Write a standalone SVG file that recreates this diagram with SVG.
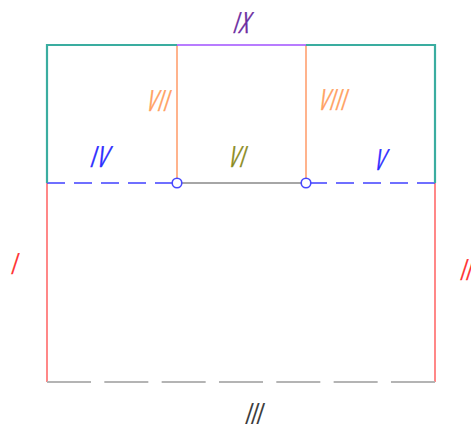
<svg xmlns="http://www.w3.org/2000/svg" width="471" height="424" viewBox="0 0 471 424">
<style>
.lbl{font-family:"Liberation Sans",Arial,sans-serif;font-size:30px;stroke-width:0.7;letter-spacing:3px}
.teal{stroke:#3aada0;stroke-width:2.2;fill:none}
.red{stroke:#ff6a6a;stroke-width:1.6;fill:none}
.org{stroke:#ffa070;stroke-width:1.6;fill:none}
.pur{stroke:#a050ff;stroke-width:1.6;fill:none}
.blu{stroke:#4040ff;stroke-width:1.6;fill:none;stroke-dasharray:18 9}
.gry{stroke:#888888;stroke-width:1.6;fill:none}
.gdash{stroke:#b4b4b4;stroke-width:2.2;fill:none;stroke-dasharray:44 13.33}
.pt{fill:#ffffff;stroke:#4848ff;stroke-width:1.6}
</style>
<rect width="471" height="424" fill="#ffffff"/>
<g id="connectors">
<g id="edge-I"><line class="red" x1="47" y1="183" x2="47" y2="382"/></g>
<g id="edge-II"><line class="red" x1="435" y1="183" x2="435" y2="382"/></g>
<g id="edge-III"><line class="gdash" x1="47" y1="382" x2="435" y2="382"/></g>
<g id="edge-IV"><line class="blu" x1="47" y1="183" x2="177" y2="183"/></g>
<g id="edge-V"><line class="blu" x1="435" y1="183" x2="306" y2="183"/></g>
<g id="edge-VI"><line class="gry" x1="177" y1="183" x2="306" y2="183"/></g>
<g id="edge-VII"><line class="org" x1="177" y1="45" x2="177" y2="183"/></g>
<g id="edge-VIII"><line class="org" x1="306" y1="45" x2="306" y2="183"/></g>
<g id="edge-IX"><line class="pur" x1="177" y1="45" x2="306" y2="45"/></g>
<g id="edge-top"><polyline class="teal" points="47,183 47,45 177,45"/><polyline class="teal" points="306,45 435,45 435,183"/></g>
</g>
<g id="node-left"><circle class="pt" cx="177" cy="183" r="4.8"/></g>
<g id="node-right"><circle class="pt" cx="306" cy="183" r="4.8"/></g>
<g id="labels">
<text class="lbl" fill="#6a2aa0" stroke="#6a2aa0" transform="translate(232,33) skewX(-18) scale(0.5,1)">IX</text>
<text class="lbl" fill="#ffa060" stroke="#ffa060" transform="translate(145,111) skewX(-18) scale(0.5,1)">VII</text>
<text class="lbl" fill="#ffa060" stroke="#ffa060" transform="translate(317,110) skewX(-18) scale(0.5,1)">VIII</text>
<text class="lbl" fill="#2a2aff" stroke="#2a2aff" transform="translate(89,167) skewX(-18) scale(0.55,1)">IV</text>
<text class="lbl" fill="#8a8a1a" stroke="#8a8a1a" transform="translate(227,167) skewX(-18) scale(0.5,1)">VI</text>
<text class="lbl" fill="#2a2aff" stroke="#2a2aff" transform="translate(373,170) skewX(-18) scale(0.5,1)">V</text>
<text class="lbl" fill="#ff2a2a" stroke="#ff2a2a" transform="translate(10,274) skewX(-18) scale(0.5,1)">I</text>
<text class="lbl" fill="#ff2a2a" stroke="#ff2a2a" transform="translate(459,280) skewX(-18) scale(0.5,1)">II</text>
<text class="lbl" fill="#303030" stroke="#303030" transform="translate(244,424) skewX(-18) scale(0.5,1)">III</text>
</g>
</svg>
